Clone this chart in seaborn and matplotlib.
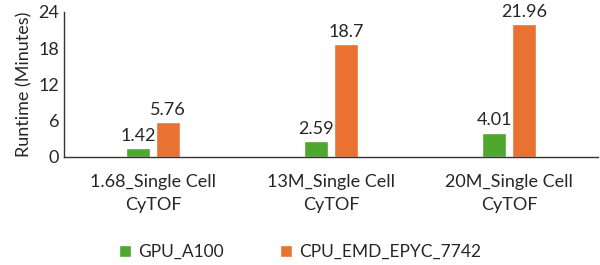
import pandas as pd
import matplotlib
matplotlib.use("Agg")
import matplotlib.pyplot as plt
import seaborn as sns

# Data
datasets = ["1.68_Single Cell\nCyTOF", "13M_Single Cell\nCyTOF", "20M_Single Cell\nCyTOF"]
gpu_runtime = [1.42, 2.59, 4.01]
cpu_runtime = [5.76, 18.7, 21.96]
series = ["GPU_A100", "CPU_EMD_EPYC_7742"]
colors = ["#4EA72E", "#E97132"]

df = pd.DataFrame({
    "Dataset": datasets * 2,
    "Runtime": gpu_runtime + cpu_runtime,
    "Device": [series[0]] * 3 + [series[1]] * 3,
})

sns.set_style("white")
plt.rcParams["font.family"] = ["Lato", "DejaVu Sans"]

fig = plt.figure(figsize=(6, 2.65), dpi=100)
ax = fig.add_axes([0.107, 0.408, 0.89, 0.547])

sns.barplot(data=df, x="Dataset", y="Runtime", hue="Device", palette=colors,
            saturation=1, width=0.34, gap=0.2, ax=ax, legend=True)

for c in ax.containers:
    ax.bar_label(c, labels=[f"{v:g}" for v in c.datavalues], fontsize=13, padding=3)

ax.set_ylim(0, 24)
ax.set_yticks([0, 6, 12, 18, 24])
ax.set_xlim(-0.5, 2.5)
ax.set_xlabel("")
ax.set_ylabel("Runtime (Minutes)", fontsize=13)
ax.tick_params(axis="both", labelsize=13, length=0)
ax.tick_params(axis="x", pad=12)
for lab in ax.get_xticklabels():
    lab.set_linespacing(1.55)
sns.despine(ax=ax)
for s in ["left", "bottom"]:
    ax.spines[s].set_color("#333333")
    ax.spines[s].set_linewidth(1.0)

handles, labels = ax.get_legend_handles_labels()
ax.get_legend().remove()
fig.legend(handles, labels, loc="center", bbox_to_anchor=(0.5, 0.05), ncol=2,
           frameon=False, fontsize=12.5, handlelength=0.7, handleheight=0.7,
           columnspacing=3.2, handletextpad=0.4)

fig.savefig("out.png", dpi=100)
